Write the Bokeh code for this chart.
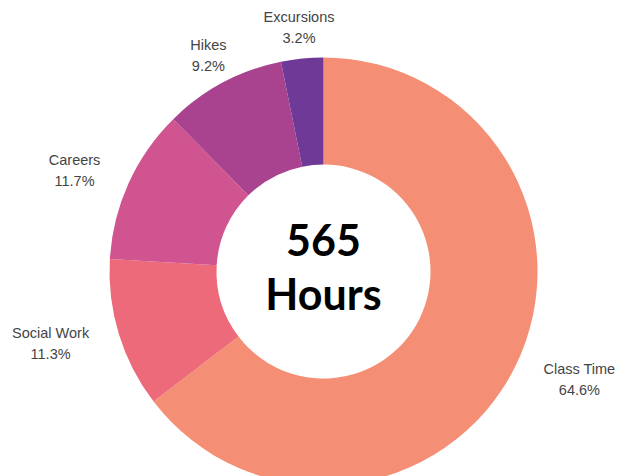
import math
from bokeh.plotting import figure
from bokeh.models import Range1d, ColumnDataSource
from bokeh.core.properties import value
from bokeh.embed import file_html
from bokeh.resources import INLINE

categories = ["Class Time", "Social Work", "Careers", "Hikes", "Excursions"]
hours = [365, 64, 66, 52, 18]
colors = ["#F48F75", "#EC6A7A", "#CF5490", "#A9428F", "#6F3A97"]
center_unit = "Hours"

total = sum(hours)

# Arial / Liberation Sans advance widths (per 1000 em) for width estimates
CW = {" ": 278, "%": 889, ".": 278, "C": 722, "E": 667, "H": 722, "S": 667,
      "T": 611, "W": 944, "a": 556, "c": 500, "e": 556, "i": 222, "k": 500,
      "l": 222, "m": 833, "n": 556, "o": 556, "r": 333, "s": 500, "u": 556,
      "x": 500}
FS = 14.5


def text_w(s):
    return sum(CW.get(ch, 556) for ch in s) / 1000.0 * FS


p = figure(width=620, height=476, output_backend="svg", toolbar_location=None,
           x_range=Range1d(-323, 297), y_range=Range1d(-205, 271),
           min_border=0)
p.axis.visible = False
p.grid.visible = False
p.outline_line_color = None
p.background_fill_color = "white"
p.border_fill_color = "white"

starts, ends, mids = [], [], []
cum = 0.0
for h in hours:
    a0 = math.pi / 2 - 2 * math.pi * cum / total
    cum += h
    a1 = math.pi / 2 - 2 * math.pi * cum / total
    starts.append(a0)
    ends.append(a1)
    mids.append((a0 + a1) / 2)

src = ColumnDataSource(dict(x=[0] * len(hours), y=[0] * len(hours),
                            start=starts, end=ends, color=colors))
p.annular_wedge(x="x", y="y", inner_radius=107, outer_radius=214,
                start_angle="start", end_angle="end", direction="clock",
                fill_color="color", line_color=None, source=src)

# labels outside
R_LAB = 245
nx, ny, px_, py_, names, pcts = [], [], [], [], [], []
for name, h, m in zip(categories, hours, mids):
    pct = f"{h / total * 100:.1f}%"
    ax = R_LAB * math.cos(m)
    ay = R_LAB * math.sin(m)
    bw = max(text_w(name), text_w(pct))
    c = math.cos(m)
    if c > 0.5:
        cx = ax + bw / 2
    elif c < -0.5:
        cx = ax - bw / 2
    else:
        cx = ax
    nx.append(cx); ny.append(ay + 10.5)
    px_.append(cx); py_.append(ay - 10.5)
    names.append(name); pcts.append(pct)

p.text(x=nx, y=ny, text=names, text_align="center", text_baseline="middle",
       text_font=value("Liberation Sans"), text_font_size=f"{FS}px",
       text_color="#444444")
p.text(x=px_, y=py_, text=pcts, text_align="center", text_baseline="middle",
       text_font=value("Liberation Sans"), text_font_size=f"{FS}px",
       text_color="#444444")

p.text(x=[0, 0], y=[32, -21.5], text=[str(total), center_unit],
       text_align="center", text_baseline="middle",
       text_font=value("Lato"), text_font_style="bold",
       text_font_size="43px", text_color="#000000")

open("out.html", "w").write(file_html(p, INLINE))
